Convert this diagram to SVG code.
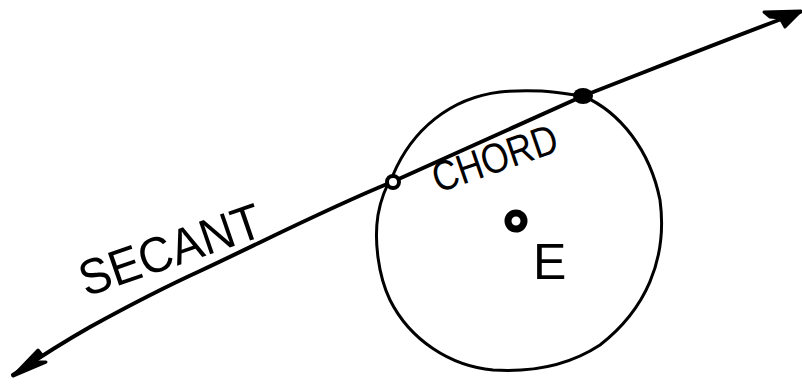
<svg xmlns="http://www.w3.org/2000/svg" width="802" height="385" viewBox="0 0 802 385">
  <style>
    .ink { fill: none; stroke: #000; stroke-linecap: round; stroke-linejoin: round; }
    .head { fill: #000; stroke: #000; stroke-width: 3; stroke-linejoin: round; }
    .lbl { font-family: "Liberation Sans", Arial, sans-serif; fill: #000; }
  </style>
  <rect width="802" height="385" fill="#fff"/>
  <g id="circle-E">
    <path class="ink" stroke-width="3" d="M393,175 C412,130 450,98 500,92 C540,88 565,94 583,96 C620,112 650,150 660,200 C668,260 645,310 600,345 C565,368 525,372 493,370 C450,366 410,340 390,300 C378,275 374,240 378,215 C381,198 386,186 393,175 Z"/>
  </g>
  <g id="connectors">
    <path id="secant" class="ink" stroke-width="4" d="M13,375 C40,357 60,344 90,327 C130,305 165,287 200,271 C260,243 330,207 392,182 L583,96 C650,70 720,42 800,12"/>
    <path id="arrow-left" class="head" d="M13,376 L38,350 L42,355 L33,362 L46,362 Z"/>
    <path id="arrow-right" class="head" d="M801,11 L764,12 L770,17 L780,18 L785,27 Z"/>
  </g>
  <g id="point-left">
    <circle cx="393" cy="182" r="6" fill="#fff" stroke="#000" stroke-width="4"/>
  </g>
  <g id="point-right">
    <ellipse cx="583" cy="96" rx="10" ry="8" fill="#000"/>
  </g>
  <g id="center-E">
    <circle cx="516" cy="221" r="8" fill="#fff" stroke="#000" stroke-width="7"/>
  </g>
  <g id="labels">
    <text class="lbl" x="86" y="297" font-size="50" textLength="190" lengthAdjust="spacingAndGlyphs" transform="rotate(-19 86 297)">SECANT</text>
    <text class="lbl" x="438" y="193" font-size="42" textLength="130" lengthAdjust="spacingAndGlyphs" transform="rotate(-19 438 193)">CHORD</text>
    <text class="lbl" x="533" y="279" font-size="50">E</text>
  </g>
</svg>
